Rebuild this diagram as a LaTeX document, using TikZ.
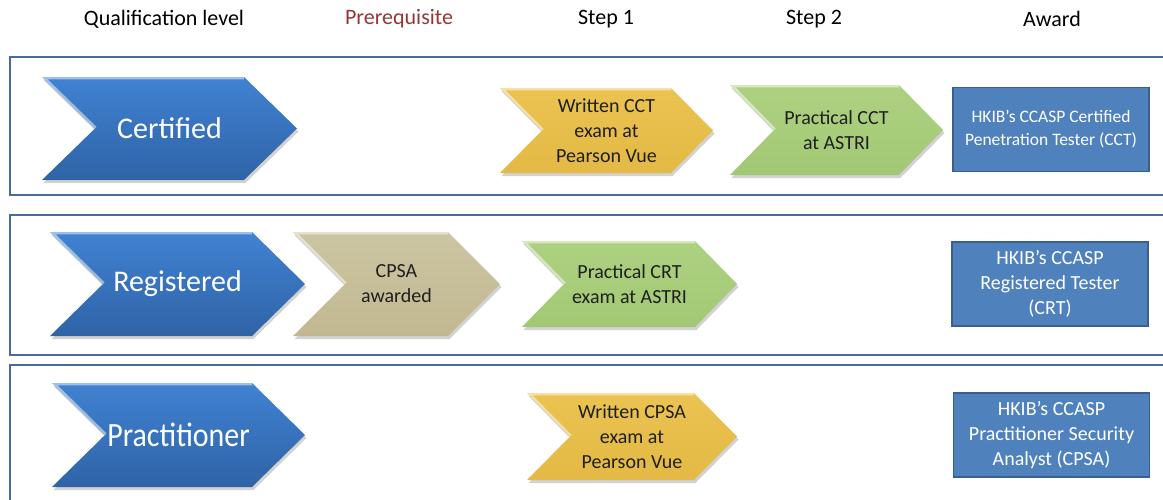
\documentclass[tikz,border=0pt]{standalone}
\usepackage{fontspec}
\setmainfont{Carlito}
\usetikzlibrary{shadows}
\definecolor{frameblue}{HTML}{4A6B9A}
\definecolor{chevtop}{HTML}{4082D2}
\definecolor{chevbot}{HTML}{2F63A6}
\definecolor{goldtop}{HTML}{EBC350}
\definecolor{goldbot}{HTML}{E4B946}
\definecolor{leaftop}{HTML}{ADD180}
\definecolor{leafbot}{HTML}{A2C875}
\definecolor{tantop}{HTML}{CCC5A2}
\definecolor{tanbot}{HTML}{C1B890}
\definecolor{awardfill}{HTML}{4F81BD}
\definecolor{awardline}{HTML}{3A5F8C}
\definecolor{prereq}{HTML}{953735}
\tikzset{
  x=1pt, y=-1pt,
  header/.style={font=\fontsize{22}{26}\selectfont, text=black, inner sep=0pt},
  rowbox/.style={draw=frameblue, line width=2.8pt},
  chevshadow/.style={drop shadow={shadow xshift=1.5pt, shadow yshift=-3pt, opacity=.25, fill=black!70}},
  bluechev/.style={chevshadow, top color=chevtop, bottom color=chevbot},
  goldchev/.style={chevshadow, top color=goldtop, bottom color=goldbot},
  leafchev/.style={chevshadow, top color=leaftop, bottom color=leafbot},
  tanchev/.style={chevshadow, top color=tantop, bottom color=tanbot},
  bigtext/.style={text=white, font=\fontsize{30}{34}\selectfont, inner sep=0pt},
  steptext/.style={text=black!88, font=\fontsize{20}{25}\selectfont, align=center, inner sep=0pt},
  award/.style={draw=awardline, line width=1.5pt, fill=awardfill, text=white,
    minimum width=196pt, minimum height=84pt, align=center, inner sep=0pt,
    font=\fontsize{20}{25}\selectfont},
  shine/.style={draw=white, opacity=.5, line width=4.5pt, line join=round}
}
% #1 name, #2 style, #3 x1, #4 x2, #5 ytop, #6 ybottom, #7 depth, #8 text style, #9 text
\newcommand\chevron[9]{%
  \path[#2] (#3,#5) -- ({#4-#7},#5) -- (#4,{(#5+#6)/2}) -- ({#4-#7},#6) -- (#3,#6)
     -- ({#3+#7},{(#5+#6)/2}) -- cycle;
  \begin{scope}
    \clip (#3,#5) -- ({#4-#7},#5) -- (#4,{(#5+#6)/2}) -- ({#4-#7},#6) -- (#3,#6)
     -- ({#3+#7},{(#5+#6)/2}) -- cycle;
    \draw[shine] ({#3+#7},{(#5+#6)/2}) -- (#3,#5) -- ({#4-#7},#5);
  \end{scope}
  \node[#8] (#1) at ({(#3+#4)/2},{(#5+#6)/2}) {#9};
}
\begin{document}
\begin{tikzpicture}
\useasboundingbox (0,0) rectangle (1163,499);
\fill[white] (0,0) rectangle (1163,499);
\clip (0,0) rectangle (1163,499);

% headers
\node[header] (hq) at (164,19) {Qualification level};
\node[header, text=prereq] (hp) at (399,19) {Prerequisite};
\node[header] (hs1) at (606,19) {Step 1};
\node[header] (hs2) at (814,19) {Step 2};
\node[header] (ha) at (1052,19) {Award};

% row frames
\draw[rowbox] (10,57) rectangle (1185,195);
\draw[rowbox] (10,215) rectangle (1185,355);
\draw[rowbox] (10,365) rectangle (1185,520);

% row 1
\chevron{cert}{bluechev}{42}{297}{77}{180}{53}{bigtext}{Certified}
\chevron{wcct}{goldchev}{500}{713}{88}{173}{42}{steptext}{Written CCT\\exam at\\Pearson Vue}
\chevron{pcct}{leafchev}{730}{943}{85}{175}{44}{steptext}{Practical CCT\\at ASTRI}
\node[award, font=\fontsize{17.5}{23}\selectfont] (acct) at (1051,129.5) {HKIB’s CCASP Certified\\Penetration Tester (CCT)};

% row 2
\chevron{reg}{bluechev}{50}{305}{232}{336}{53}{bigtext}{Registered}
\chevron{cpsaaw}{tanchev}{293}{500}{232}{336}{52}{steptext}{CPSA\\awarded}
\chevron{pcrt}{leafchev}{522}{737}{241}{327}{42}{steptext}{Practical CRT\\exam at ASTRI}
\node[award] (acrt) at (1050,284) {HKIB’s CCASP\\Registered Tester\\(CRT)};

% row 3
\chevron{prac}{bluechev}{52}{305}{383}{487}{53}{bigtext}{\scalebox{0.88}[1]{\fontsize{34}{38}\selectfont Practitioner}}
\chevron{wcpsa}{goldchev}{527}{737}{393}{480}{43}{steptext}{Written CPSA\\exam at\\Pearson Vue}
\node[award] (acpsa) at (1051.5,435) {HKIB’s CCASP\\Practitioner Security\\Analyst (CPSA)};
\end{tikzpicture}
\end{document}
